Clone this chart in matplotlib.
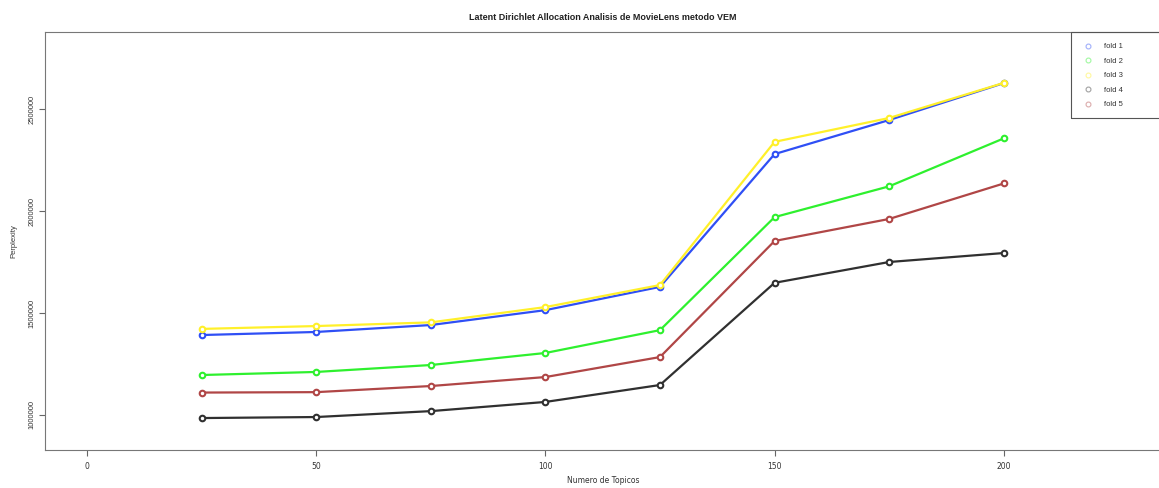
"""LDA perplexity por numero de topicos (5 folds), estilo grafico base de R."""

import matplotlib

matplotlib.use("Agg")
import matplotlib.pyplot as plt
from matplotlib.lines import Line2D
from matplotlib.patches import Rectangle

topicos = [25, 50, 75, 100, 125, 150, 175, 200]

fold_1 = [1392000, 1407000, 1441000, 1514000, 1628000, 2279000, 2446000, 2627000]
fold_2 = [1196000, 1211000, 1245000, 1304000, 1416000, 1970000, 2121000, 2356000]
fold_3 = [1422000, 1436000, 1454000, 1529000, 1637000, 2339000, 2456000, 2628000]
fold_4 = [985000, 990000, 1019000, 1064000, 1147000, 1648000, 1750000, 1794000]
fold_5 = [1110000, 1112000, 1142000, 1186000, 1284000, 1853000, 1961000, 2135000]

series = [fold_1, fold_2, fold_3, fold_4, fold_5]
labels = ["fold 1", "fold 2", "fold 3", "fold 4", "fold 5"]
colors = ["#2f4ff5", "#2ef02e", "#fff02a", "#303030", "#b04646"]

x_ticks = [0, 50, 100, 150, 200]
y_ticks = [1000000, 1500000, 2000000, 2500000]

W, H = 1159, 488
fig = plt.figure(figsize=(W / 100, H / 100), dpi=100)
left, right, top, bottom = 45, 1161, 32, 450
ax = fig.add_axes([left / W, 1 - bottom / H, (right - left) / W, (bottom - top) / H])

for vals, lab, col in zip(series, labels, colors):
    ax.plot(
        topicos, vals, color=col, lw=1.6, marker="o", ms=4.0,
        mfc="white", mec=col, mew=1.5, label=lab,
    )

ax.set_xlim(-9.16, 234.3)
ax.set_ylim(828400, 2877500)

ax.set_xticks(x_ticks)
ax.set_xticklabels([str(v) for v in x_ticks], fontsize=5.5, color="#333333",
                   family=["Liberation Sans Narrow", "DejaVu Sans"])
ax.set_yticks(y_ticks)
ax.set_yticklabels([str(v) for v in y_ticks], fontsize=5.5, color="#333333",
                   rotation=90, va="center",
                   family=["Liberation Sans", "DejaVu Sans"])
ax.tick_params(axis="x", length=4, width=0.8, color="#666666", pad=4.5)
ax.tick_params(axis="y", length=4, width=0.8, color="#666666", pad=3)

for side in ["left", "bottom", "top", "right"]:
    ax.spines[side].set_color("#777777")
    ax.spines[side].set_linewidth(0.8)

ax.set_xlabel("Numero de Topicos", fontsize=5.5, color="#333333", labelpad=4,
              family=["Liberation Sans Narrow", "DejaVu Sans"])
ax.set_ylabel("Perplexity", fontsize=5.5, color="#333333", labelpad=8,
              family=["Liberation Sans", "DejaVu Sans"])
ax.set_title("Latent Dirichlet Allocation Analisis de MovieLens metodo VEM",
             fontsize=6.5, fontweight="bold", color="#222222", pad=9,
             family=["Liberation Sans", "DejaVu Sans"])

# caja de la leyenda: sale por el borde derecho como en la imagen original
fig.patches.append(Rectangle(
    (1071 / W, 1 - 118 / H), 120 / W, 86 / H, transform=fig.transFigure,
    fill=False, edgecolor="#555555", linewidth=0.8,
))

handles = [
    Line2D([], [], ls="none", marker="o", ms=3.5, mfc="none", mec=c, mew=0.8, alpha=0.45)
    for c in colors
]
leg = ax.legend(
    handles, labels, loc="upper left", bbox_to_anchor=(1071 / W, 1 - 32 / H),
    bbox_transform=fig.transFigure, frameon=False, handlelength=1.6,
    handletextpad=1.3, labelspacing=0.93, borderpad=1.45, borderaxespad=0.0,
    prop={"family": ["Liberation Sans", "DejaVu Sans"], "size": 5.5},
)
for t in leg.get_texts():
    t.set_color("#333333")

fig.savefig("out.png", dpi=100)
